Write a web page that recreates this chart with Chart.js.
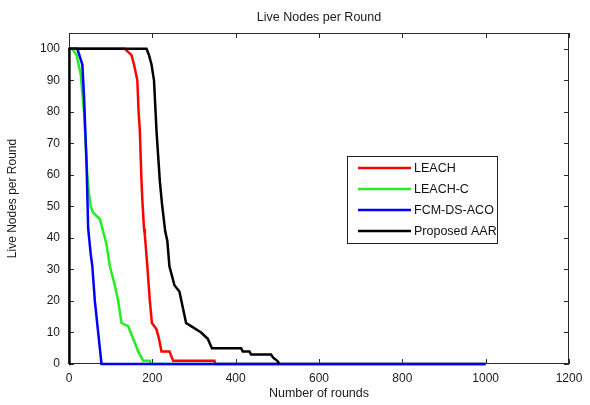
<!DOCTYPE html>
<html>
<head>
<meta charset="utf-8">
<script src="https://cdn.jsdelivr.net/npm/chart.js@4.4.0/dist/chart.umd.min.js"></script>
<style>
  html, body { margin: 0; padding: 0; background: #fff; }
</style>
</head>
<body>
<canvas id="chart" width="590" height="405"></canvas>
<script>
// values (round, live nodes)
const leachRounds = [0, 134, 150, 156, 164, 167, 170, 174, 176, 180, 182, 188, 194, 199, 210, 216, 222, 241, 250, 349, 351, 1000];
const leachNodes  = [100, 100, 98, 95, 90, 80, 74, 58, 52, 43, 41, 31, 20, 13, 11, 8, 4, 4, 1, 1, 0, 0];

const leachCRounds = [0, 8, 18, 28, 36, 40, 44, 48, 52, 58, 74, 82, 90, 98, 110, 118, 126, 142, 154, 166, 178, 194, 196, 1000];
const leachCNodes  = [100, 100, 98, 92, 80, 70, 60, 54, 50, 48, 46, 42, 38, 31, 25, 20, 13, 12, 8, 4, 1, 1, 0, 0];

const fcmRounds = [0, 20, 32, 36, 42, 46, 52, 56, 62, 70, 78, 1000];
const fcmNodes  = [100, 100, 95, 85, 64, 43, 35, 31, 20, 10, 0, 0];

const aarRounds = [0, 1, 186, 192, 198, 204, 210, 218, 223, 231, 236, 241, 253, 265, 273, 281, 293, 317, 333, 343, 413, 417, 433, 437, 485, 490, 500, 505];
const aarNodes  = [0, 100, 100, 98, 95, 90, 74, 58, 51, 42, 39, 31, 25, 23, 18, 13, 12, 10, 8, 5, 5, 4, 4, 3, 3, 2, 1, 0];

const xTicks = [0, 200, 400, 600, 800, 1000, 1200];
const yTicks = [0, 10, 20, 30, 40, 50, 60, 70, 80, 90, 100];
const legendLabels = ['LEACH', 'LEACH-C', 'FCM-DS-ACO', 'Proposed AAR'];
const legendColors = ['#ff0000', '#22ee22', '#0000ff', '#000000'];

const toPoints = (xs, ys) => xs.map((x, i) => ({ x: x, y: ys[i] }));

const FONT = '"Liberation Sans", Arial, sans-serif';

// matlab-like box, inward ticks, labels and legend
const axesPlugin = {
  id: 'axesPlugin',
  beforeDatasetsDraw(chart) {
    const { ctx, chartArea: a, scales: { x, y } } = chart;
    ctx.save();
    ctx.strokeStyle = '#2a2a2a';
    ctx.lineWidth = 1;
    ctx.strokeRect(a.left + 0.5, a.top + 0.5, a.right - a.left - 1, a.bottom - a.top - 1);
    ctx.beginPath();
    xTicks.forEach(v => {
      const px = Math.round(x.getPixelForValue(v)) + 0.5;
      ctx.moveTo(px, a.bottom); ctx.lineTo(px, a.bottom - 5);
      ctx.moveTo(px, a.top); ctx.lineTo(px, a.top + 5);
    });
    yTicks.forEach(v => {
      const py = Math.round(y.getPixelForValue(v)) + 0.5;
      ctx.moveTo(a.left, py); ctx.lineTo(a.left + 5, py);
      ctx.moveTo(a.right, py); ctx.lineTo(a.right - 5, py);
    });
    ctx.stroke();

    ctx.fillStyle = '#1a1a1a';
    ctx.font = '12px ' + FONT;
    ctx.textAlign = 'center';
    ctx.textBaseline = 'middle';
    xTicks.forEach(v => ctx.fillText(String(v), x.getPixelForValue(v), a.bottom + 15));
    ctx.textAlign = 'right';
    yTicks.forEach(v => ctx.fillText(String(v), a.left - 9, y.getPixelForValue(v)));

    ctx.textAlign = 'center';
    ctx.font = '12.5px ' + FONT;
    ctx.fillText('Live Nodes per Round', (a.left + a.right) / 2, 18);
    ctx.fillText('Number of rounds', (a.left + a.right) / 2, 394);
    ctx.save();
    ctx.translate(13, (a.top + a.bottom) / 2);
    ctx.rotate(-Math.PI / 2);
    ctx.font = '12px ' + FONT;
    ctx.fillText('Live Nodes per Round', 0, 0);
    ctx.restore();
    ctx.restore();
  },
  afterDraw(chart) {
    const { ctx } = chart;
    ctx.save();
    ctx.fillStyle = '#fff';
    ctx.fillRect(347, 156, 150, 87);
    ctx.strokeStyle = '#222';
    ctx.lineWidth = 1;
    ctx.strokeRect(347.5, 156.5, 150, 87);
    ctx.font = '12.5px ' + FONT;
    ctx.textAlign = 'left';
    ctx.textBaseline = 'middle';
    legendLabels.forEach((lab, i) => {
      const yy = 168 + i * 21;
      ctx.strokeStyle = legendColors[i];
      ctx.lineWidth = 2.5;
      ctx.beginPath();
      ctx.moveTo(358, yy); ctx.lineTo(411, yy);
      ctx.stroke();
      ctx.fillStyle = '#111';
      ctx.fillText(lab, 414, yy + 1);
    });
    ctx.restore();
  }
};

const lineDs = (label, data, color) => ({
  label: label,
  data: data,
  borderColor: color,
  borderWidth: 2.5,
  pointRadius: 0,
  tension: 0,
  fill: false,
  clip: false
});

new Chart(document.getElementById('chart'), {
  type: 'line',
  data: {
    // first dataset ends up on top
    datasets: [
      lineDs('Proposed AAR', toPoints(aarRounds, aarNodes), legendColors[3]),
      lineDs('FCM-DS-ACO', toPoints(fcmRounds, fcmNodes), legendColors[2]),
      lineDs('LEACH-C', toPoints(leachCRounds, leachCNodes), legendColors[1]),
      lineDs('LEACH', toPoints(leachRounds, leachNodes), legendColors[0])
    ]
  },
  options: {
    responsive: false,
    animation: false,
    layout: { padding: { left: 69, right: 21, top: 33, bottom: 41 } },
    plugins: { legend: { display: false }, title: { display: false }, tooltip: { enabled: false } },
    scales: {
      x: { type: 'linear', min: 0, max: 1200, display: false },
      y: { type: 'linear', min: 0, max: 105, display: false }
    }
  },
  plugins: [axesPlugin]
});
</script>
</body>
</html>
